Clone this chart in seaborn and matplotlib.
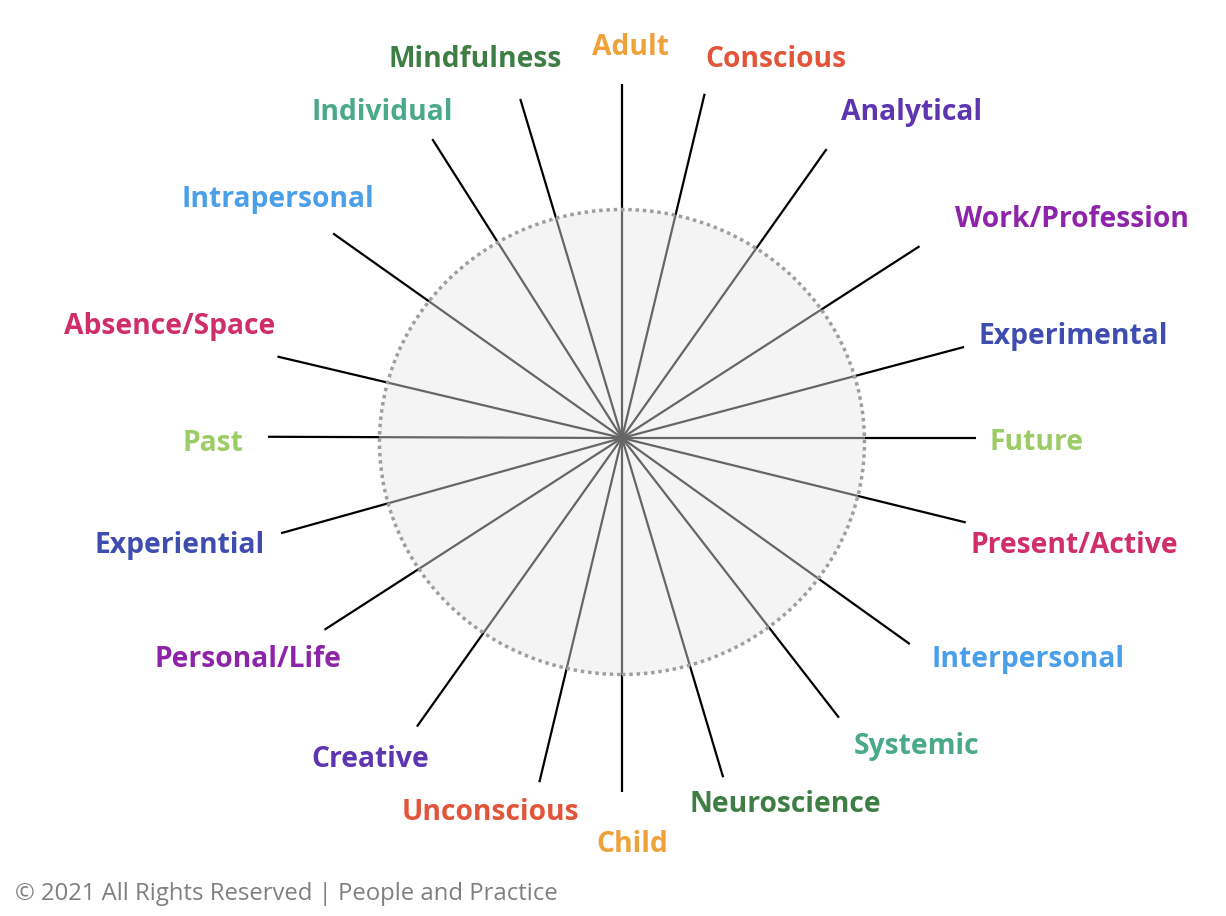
import numpy as np
import pandas as pd
import matplotlib
matplotlib.use("Agg")
import matplotlib.pyplot as plt
from matplotlib.patches import Ellipse
import seaborn as sns

# Etiketler (saat yönünde, tepeden başlayarak)
labels = ["Adult", "Conscious", "Analytical", "Work/Profession", "Experimental",
          "Future", "Present/Active", "Interpersonal", "Systemic", "Neuroscience",
          "Child", "Unconscious", "Creative", "Personal/Life", "Experiential",
          "Past", "Absence/Space", "Intrapersonal", "Individual", "Mindfulness"]

# Kolların açısı (derece, tepeden saat yönünde)
angles = [0, 13.5, 35.3, 57.2, 75.1,
          90, 103.8, 125.6, 142.2, 163.4,
          180, 193.5, 215.4, 237.2, 254.4,
          270.2, 283.3, 305.3, 327.6, 343.3]

colors = ["#EFA23A", "#E2553A", "#5E35B1", "#8E24AA", "#3F4DB0",
          "#9CCC65", "#CF2E68", "#4A9FEA", "#4AA88B", "#3E7E45",
          "#EFA23A", "#E2553A", "#5E35B1", "#8E24AA", "#3F4DB0",
          "#9CCC65", "#CF2E68", "#4A9FEA", "#4AA88B", "#3E7E45"]

footer = "© 2021 All Rights Reserved | People and Practice"

# yerleşim (piksel, merkeze göre)
spoke_len = 354
label_offsets = [(8, 383), (154, 371), (290, 318), (450, 211), (451, 94),
                 (415, -12), (452, -115), (406, -229), (295, -316), (163, -374),
                 (10, -414), (-132, -382), (-252, -329), (-374, -229), (-442, -115),
                 (-409, -13), (-452, 104), (-344, 231), (-240, 318), (-147, 371)]

sns.set_theme(style="white")
plt.rcParams["font.family"] = ["Open Sans", "DejaVu Sans"]

# kol uçları için tablo
rad = np.deg2rad(angles)
rows = []
for lab, a in zip(labels, rad):
    rows.append({"label": lab, "x": 0.0, "y": 0.0})
    rows.append({"label": lab, "x": spoke_len * np.sin(a), "y": spoke_len * np.cos(a)})
spokes = pd.DataFrame(rows)

fig = plt.figure(figsize=(12.26, 9.16), dpi=100)
ax = fig.add_axes([0, 0, 1, 1])
ax.set_xlim(-622, 604)
ax.set_ylim(-478, 438)
ax.axis("off")

# dış kısım siyah
sns.lineplot(data=spokes, x="x", y="y", units="label", estimator=None, sort=False,
             color="black", linewidth=1.6, ax=ax, legend=False)
for ln in ax.lines:
    ln.set_zorder(1)
    ln.set_solid_capstyle("butt")

# daire dolgusu
disk = Ellipse((0, -4), 485, 465, facecolor="#f4f4f4", edgecolor="none", zorder=2)
ax.add_patch(disk)

# iç kısım gri (daireye kırpılmış)
n_before = len(ax.lines)
sns.lineplot(data=spokes, x="x", y="y", units="label", estimator=None, sort=False,
             color="#666666", linewidth=1.6, ax=ax, legend=False)
for ln in ax.lines[n_before:]:
    ln.set_zorder(3)
    ln.set_clip_path(disk)

# noktalı çember
ring = Ellipse((0, -4), 485, 465, fill=False, edgecolor="#9e9e9e", linewidth=2.5,
               linestyle=(0, (1, 1.1)), zorder=4)
ax.add_patch(ring)

for lab, col, (dx, dy) in zip(labels, colors, label_offsets):
    ax.text(dx, dy, lab, color=col, fontsize=20.3, fontweight="bold",
            ha="center", va="baseline")

fig.text(15 / 1226, 16 / 916, footer, color="#7f7f7f", fontsize=17.2,
         ha="left", va="baseline")

fig.savefig("out.png", dpi=100)
